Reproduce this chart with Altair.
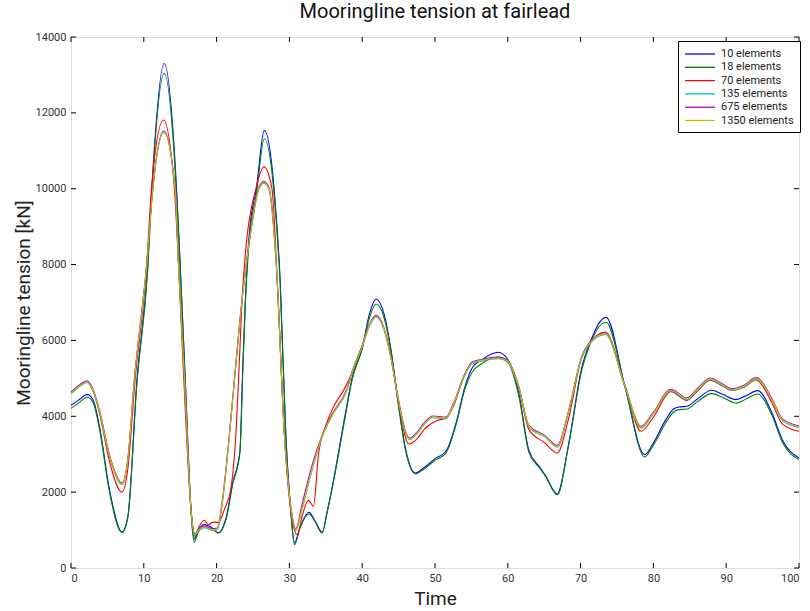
import altair as alt
import pandas as pd

# ---------------- data ----------------
labels = ["10 elements", "18 elements", "70 elements", "135 elements", "675 elements", "1350 elements"]
colors = ["#0000ff", "#008000", "#ff0000", "#00bfbf", "#bf00bf", "#bfbf00"]

x_ticks = [0, 10, 20, 30, 40, 50, 60, 70, 80, 90, 100]
y_ticks = [0, 2000, 4000, 6000, 8000, 10000, 12000, 14000]

# 10 and 18 elements share one time grid
t_b = [0, 1, 2.2, 3, 3.9, 5.3, 7.0, 7.8, 9.05, 10.55,
       11.1, 12.8, 14.5, 15.0, 15.7, 16.5, 16.9, 17.5, 18.3, 19.0,
       19.6, 20.2, 21.3, 22.2, 23.2, 23.6, 23.95, 24.5, 25.46, 26.56,
       27.9, 28.75, 29.5, 30.2, 30.7, 31.5, 32.7, 33.5, 34.5, 35.2,
       35.9, 37.7, 38.6, 40, 41, 41.9, 43, 44, 45, 46,
       47.3, 48.5, 50, 51.5, 53, 54, 55.1, 56.5, 58.7, 60,
       61.5, 62.9, 64.3, 65.1, 66.8, 68.3, 70.2, 71.1, 73.5, 76.1,
       78.8, 80, 81.7, 82.8, 83.5, 84.6, 86, 88, 89.5, 91.3,
       92.8, 94.3, 96.3, 97.7, 100]
v_10 = [4290, 4420, 4570, 4450, 3750, 2050, 950, 1350, 4942, 8000,
        10000, 13300, 10000, 8000, 4942, 1500, 760, 1000, 1143, 1100,
        1028, 923, 1318, 2241, 3076, 5317, 7074, 8832, 10000, 11539,
        10000, 7500, 3559, 1500, 660, 1100, 1468, 1250, 940, 1500,
        2154, 4087, 5000, 5800, 6700, 7094, 6700, 5700, 4300, 3100,
        2505, 2650, 2883, 3077, 3900, 4703, 5274, 5500, 5687, 5494,
        4615, 3100, 2681, 2461, 1951, 3208, 5318, 5845, 6610, 4790,
        2989, 3296, 3912, 4200, 4246, 4263, 4450, 4685, 4580, 4439,
        4550, 4676, 4087, 3384, 2901]
v_18 = [4210, 4340, 4500, 4380, 3680, 1990, 930, 1320, 4850, 7900,
        9900, 13040, 9850, 7900, 4900, 1450, 680, 950, 1081, 1050,
        1000, 923, 1280, 2200, 3040, 5200, 6950, 8700, 9850, 11318,
        9850, 7400, 3500, 1450, 615, 1080, 1424, 1230, 920, 1480,
        2120, 4020, 4950, 5780, 6600, 6962, 6600, 5650, 4250, 3060,
        2479, 2610, 2840, 3030, 3850, 4650, 5160, 5400, 5564, 5430,
        4550, 3050, 2650, 2440, 1930, 3180, 5250, 5800, 6478, 4760,
        2927, 3240, 3830, 4120, 4175, 4190, 4380, 4597, 4500, 4351,
        4460, 4588, 4020, 3320, 2857]

t_r = [0, 1, 2.2, 3, 3.9, 5.3, 7.0, 7.8, 8.8, 10.4,
       11.05, 12.7, 14.2, 14.77, 15.5, 16.5, 17.0, 17.5, 18.3, 18.9,
       19.45, 20.3, 21.05, 21.97, 22.66, 23.1, 23.5, 24.0, 25.4, 26.5,
       27.6, 28.4, 29.3, 30.2, 31.1, 31.8, 32.6, 33.3, 34.0, 35.0,
       36.1, 37.5, 38.6, 40, 41, 41.9, 43, 44, 45, 46.4,
       47.5, 48.5, 50.2, 51.5, 52.5, 54, 55.1, 56.5, 58.7, 60,
       61.5, 62.9, 65.1, 66.8, 68.3, 70.2, 71.1, 73.4, 76.1, 78.3,
       80, 82.4, 84.6, 86, 87.8, 89.3, 90.8, 92.5, 94.1, 96.3,
       97.7, 100]
v_70 = [4615, 4780, 4900, 4690, 4100, 2800, 2000, 2600, 4942, 8000,
        10000, 11810, 10000, 8000, 4942, 1500, 840, 1050, 1257, 1142,
        1204, 1204, 1538, 2109, 3559, 5317, 7074, 8393, 10000, 10575,
        10000, 7300, 3559, 1500, 880, 1400, 1784, 1626, 3000, 3750,
        4263, 4703, 5150, 5850, 6400, 6636, 6300, 5500, 4350, 3270,
        3400, 3650, 3880, 3955, 4250, 5054, 5405, 5480, 5538, 5450,
        4750, 3648, 3296, 3032, 3900, 5582, 5889, 6223, 4790, 3604,
        3980, 4650, 4420, 4650, 4950, 4820, 4680, 4770, 4960, 4350,
        3800, 3604]

# 135, 675 and 1350 elements share one time grid
t_o = [0, 1, 2.2, 3, 3.9, 5.3, 7.0, 7.8, 8.7, 10.4,
       11.24, 12.75, 14.3, 14.77, 15.6, 16.5, 17.0, 17.5, 18.3, 19.45,
       20.1, 20.8, 21.7, 22.66, 23.5, 24.04, 24.95, 25.78, 26.5, 27.2,
       28.2, 29.3, 30.2, 30.9, 31.7, 33.1, 34.5, 35.9, 37.9, 38.6,
       40, 41, 41.9, 43, 44, 45, 46, 46.5, 47.5, 48.5,
       49.7, 51.5, 52.5, 54, 55.1, 56.5, 58.7, 60, 61.5, 62.9,
       65.1, 66.8, 68.3, 70.2, 71.1, 73.4, 76.1, 78.3, 80, 82.4,
       84.6, 86, 87.8, 89.3, 90.8, 92.5, 94.1, 96.3, 97.7, 100]
v_135 = [4595, 4760, 4890, 4680, 4130, 2930, 2200, 2830, 4922, 7980,
         9980, 11482, 9980, 7980, 4922, 1480, 860, 980, 1061, 990,
         1010, 1730, 3363, 5380, 7054, 7933, 9163, 9980, 10148, 9980,
         7980, 3539, 1580, 991, 1518, 2573, 3452, 4023, 4683, 5130,
         5830, 6380, 6616, 6280, 5480, 4380, 3530, 3380, 3530, 3780,
         3962, 3935, 4280, 5034, 5385, 5460, 5518, 5430, 4753, 3716,
         3452, 3188, 4067, 5562, 5869, 6159, 4770, 3689, 4067, 4665,
         4437, 4680, 4964, 4830, 4683, 4780, 4973, 4419, 3892, 3698]
v_675 = [4640, 4805, 4935, 4725, 4175, 2975, 2245, 2875, 4967, 8025,
         10025, 11527, 10025, 8025, 4967, 1525, 905, 1025, 1106, 1035,
         1055, 1800, 3420, 5430, 7100, 7980, 9210, 10025, 10193, 10025,
         8025, 3585, 1625, 1036, 1650, 2700, 3500, 4068, 4728, 5175,
         5875, 6425, 6661, 6325, 5525, 4425, 3575, 3425, 3575, 3825,
         4007, 3980, 4325, 5079, 5430, 5505, 5563, 5475, 4798, 3761,
         3497, 3233, 4112, 5607, 5914, 6204, 4815, 3734, 4112, 4710,
         4482, 4725, 5009, 4875, 4728, 4825, 5018, 4464, 3937, 3743]
v_1350 = [4615, 4780, 4910, 4700, 4150, 2950, 2220, 2850, 4942, 8000,
          10000, 11502, 10000, 8000, 4942, 1500, 880, 1000, 1081, 1010,
          1030, 1750, 3383, 5400, 7074, 7953, 9183, 10000, 10168, 10000,
          8000, 3559, 1600, 1011, 1538, 2593, 3472, 4043, 4703, 5150,
          5850, 6400, 6636, 6300, 5500, 4400, 3550, 3400, 3550, 3800,
          3982, 3955, 4300, 5054, 5405, 5480, 5538, 5450, 4773, 3736,
          3472, 3208, 4087, 5582, 5889, 6179, 4790, 3709, 4087, 4685,
          4457, 4700, 4984, 4850, 4703, 4800, 4993, 4439, 3912, 3718]

times = [t_b, t_b, t_r, t_o, t_o, t_o]
values = [v_10, v_18, v_70, v_135, v_675, v_1350]

frames = []
for i, (name, t, v) in enumerate(zip(labels, times, values)):
    frames.append(pd.DataFrame({"Time": t, "Tension": v, "series": name, "k": i}))
df = pd.concat(frames, ignore_index=True)

# ---------------- chart ----------------
FONT = "Roboto, Lato, sans-serif"
W, H = 728, 531

x_scale = alt.Scale(domain=[0, 100], nice=False, zero=False)
y_scale = alt.Scale(domain=[0, 14000], nice=False)

lines = alt.Chart(df).mark_line(strokeWidth=1.1, interpolate="monotone").encode(
    x=alt.X("Time:Q", scale=x_scale, title="Time",
            axis=alt.Axis(values=x_ticks, format="d", ticks=False, domain=False, grid=False,
                          labelPadding=4, labelFontSize=11, labelColor="#333333",
                          titleFontSize=19, titleFontWeight="normal", titlePadding=6,
                          labelFont=FONT, titleFont=FONT, titleColor="#222222")),
    y=alt.Y("Tension:Q", scale=y_scale, title="Mooringline tension [kN]",
            axis=alt.Axis(values=y_ticks, format="d", ticks=False, domain=False, grid=False,
                          labelPadding=5, labelFontSize=11, labelColor="#333333",
                          titleFontSize=19, titleFontWeight="normal", titlePadding=2,
                          labelFont=FONT, titleFont=FONT, titleColor="#222222")),
    color=alt.Color("series:N", title=None,
                    scale=alt.Scale(domain=labels, range=colors),
                    legend=alt.Legend(orient="none", legendX=607, legendY=4,
                                      symbolType="M-1,0H4", symbolSize=144,
                                      symbolStrokeWidth=1.3,
                                      labelFont=FONT, labelFontSize=11, labelColor="#222222",
                                      labelOffset=23, rowPadding=1.3, padding=6,
                                      strokeColor="black", fillColor="white",
                                      cornerRadius=0)),
    detail="k:O",
)

xt = pd.DataFrame({"Time": x_ticks})
yt = pd.DataFrame({"Tension": y_ticks})

tick_bottom = alt.Chart(xt).mark_rule(color="black", strokeWidth=1).encode(
    x=alt.X("Time:Q", scale=x_scale), y=alt.value(H), y2=alt.value(H - 5))
tick_top = alt.Chart(xt).mark_rule(color="black", strokeWidth=1).encode(
    x=alt.X("Time:Q", scale=x_scale), y=alt.value(0), y2=alt.value(5))
tick_left = alt.Chart(yt).mark_rule(color="black", strokeWidth=1).encode(
    y=alt.Y("Tension:Q", scale=y_scale), x=alt.value(0), x2=alt.value(5))
tick_right = alt.Chart(yt).mark_rule(color="black", strokeWidth=1).encode(
    y=alt.Y("Tension:Q", scale=y_scale), x=alt.value(W), x2=alt.value(W - 5))

chart = alt.layer(lines, tick_bottom, tick_top, tick_left, tick_right).properties(
    width=W, height=H,
    title=alt.TitleParams("Mooringline tension at fairlead", fontSize=20, font=FONT,
                          fontWeight="normal", anchor="middle", offset=9, color="#111111"),
    padding={"left": 71, "top": 37, "right": 11, "bottom": 43},
    autosize=alt.AutoSizeParams(type="none"),
).configure_view(stroke="black", strokeWidth=1.5).configure(background="white")

chart.save("out.html", embed_options={"renderer": "svg", "actions": False})
